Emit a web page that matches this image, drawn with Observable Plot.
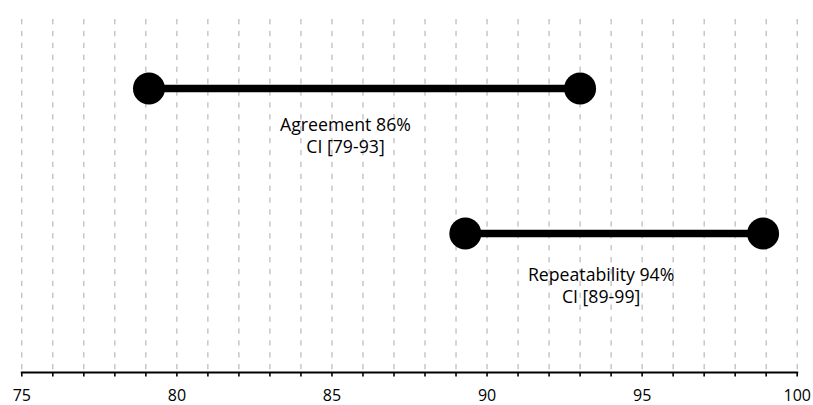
<!DOCTYPE html>
<html><head><meta charset="utf-8">
<script src="https://cdn.jsdelivr.net/npm/d3@7"></script>
<script src="https://cdn.jsdelivr.net/npm/@observablehq/plot@0.6"></script>
<style>body{margin:0;background:#fff} svg{display:block}</style>
</head><body><div id="chart"></div>
<script>
const measures = ["Agreement", "Repeatability"];
const estimates = [86, 94];
const ciLow = [79.1, 89.3];
const ciHigh = [93.0, 98.9];
const xTicks = d3.range(75, 101, 1);

const data = measures.map((m, i) => ({
  measure: m, est: estimates[i], lo: ciLow[i], hi: ciHigh[i],
  label: `${m} ${estimates[i]}%\nCI [${Math.round(ciLow[i])}-${Math.round(ciHigh[i])}]`
}));

const chart = Plot.plot({
  width: 813, height: 405,
  marginLeft: 21.3, marginRight: 16.3, marginTop: 19, marginBottom: 33,
  style: {fontFamily: "'Open Sans', sans-serif", fontSize: "16px", background: "white", color: "black"},
  x: {domain: [75, 100]},
  y: {type: "point", domain: measures, range: [88, 233], padding: 0, axis: null},
  marks: [
    Plot.ruleX(xTicks, {stroke: "#aaa", strokeWidth: 1, strokeDasharray: "5.3,6.6"}),
    Plot.frame({anchor: "bottom", strokeWidth: 2}),
    Plot.axisX(xTicks, {tickSize: 4.5, tickPadding: 13, strokeWidth: 1.6, fontSize: 16,
      tickFormat: d => d % 5 === 0 ? d : "", label: null}),
    Plot.ruleY(data, {y: "measure", x1: "lo", x2: "hi", stroke: "black", strokeWidth: 7.5}),
    Plot.dot(data, {x: "lo", y: "measure", r: 16, fill: "black"}),
    Plot.dot(data, {x: "hi", y: "measure", r: 16, fill: "black"}),
    Plot.text(data.filter(d => d.measure === "Agreement"), {x: "est", y: "measure", text: "label",
      dx: -17.5, dy: 28, lineAnchor: "top", lineHeight: 1.19, fontSize: 17.7, fill: "black"}),
    Plot.text(data.filter(d => d.measure === "Repeatability"), {x: "est", y: "measure", text: "label",
      dx: -10, dy: 33, lineAnchor: "top", lineHeight: 1.19, fontSize: 17.7, fill: "black"})
  ]
});
document.getElementById("chart").append(chart);
</script>
</body></html>
